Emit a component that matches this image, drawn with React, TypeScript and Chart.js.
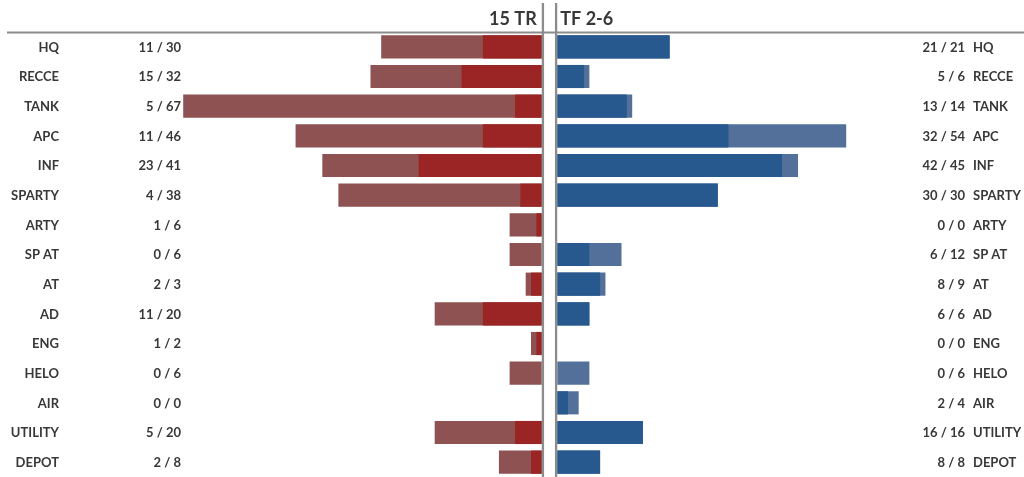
import { useEffect, useRef } from 'react';
import { Chart, registerables } from 'chart.js';

Chart.register(...registerables);

const leftTitle = '15 TR';
const rightTitle = 'TF 2-6';
const categories = ['HQ', 'RECCE', 'TANK', 'APC', 'INF', 'SPARTY', 'ARTY', 'SP AT', 'AT', 'AD', 'ENG', 'HELO', 'AIR', 'UTILITY', 'DEPOT'];
const trHave = [11, 15, 5, 11, 23, 4, 1, 0, 2, 11, 1, 0, 0, 5, 2];
const trTotal = [30, 32, 67, 46, 41, 38, 6, 6, 3, 20, 2, 6, 0, 20, 8];
const tfHave = [21, 5, 13, 32, 42, 30, 0, 6, 8, 6, 0, 0, 2, 16, 8];
const tfTotal = [21, 6, 14, 54, 45, 30, 0, 12, 9, 6, 0, 6, 4, 16, 8];

const TEXT = '#383838';
const LINE = '#8c8c8c';

export default function App() {
  const ref = useRef<HTMLCanvasElement>(null);

  useEffect(() => {
    document.body.style.margin = '0';
    const canvas = ref.current;
    if (!canvas) return;

    const labelsPlugin = {
      id: 'butterflyLabels',
      afterDraw(chart: any) {
        const ctx = chart.ctx as CanvasRenderingContext2D;
        const y = chart.scales.y;
        const zl = chart.scales.xL.getPixelForValue(0);
        const zr = chart.scales.xR.getPixelForValue(0);
        ctx.save();
        ctx.strokeStyle = LINE;
        ctx.lineWidth = 1.8;
        ctx.beginPath();
        ctx.moveTo(7, 32.5);
        ctx.lineTo(chart.width, 32.5);
        ctx.stroke();
        ctx.lineWidth = 2.3;
        ctx.beginPath();
        ctx.moveTo(zl + 1.2, 3);
        ctx.lineTo(zl + 1.2, chart.height);
        ctx.moveTo(zr - 1.2, 3);
        ctx.lineTo(zr - 1.2, chart.height);
        ctx.stroke();

        ctx.fillStyle = TEXT;
        ctx.font = "bold 18px Lato";
        ctx.textBaseline = 'alphabetic';
        ctx.textAlign = 'right';
        ctx.fillText(leftTitle, zl - 5, 25);
        ctx.textAlign = 'left';
        ctx.fillText(rightTitle, zr + 3, 25);

        ctx.font = "bold 13px Lato";
        ctx.textBaseline = 'middle';
        categories.forEach((c, i) => {
          const py = y.getPixelForValue(i) + 0.5;
          ctx.textAlign = 'right';
          ctx.fillText(c, 59, py);
          ctx.fillText(`${trHave[i]} / ${trTotal[i]}`, 181, py);
          ctx.fillText(`${tfHave[i]} / ${tfTotal[i]}`, 965, py);
          ctx.textAlign = 'left';
          ctx.fillText(c, 973, py);
        });
        ctx.restore();
      },
    };

    const common = { grouped: false, barPercentage: 0.78, categoryPercentage: 1, borderWidth: 0 };

    const chart = new Chart(canvas, {
      type: 'bar',
      data: {
        labels: categories,
        datasets: [
          { ...common, label: '15 TR have', data: trHave, xAxisID: 'xL', backgroundColor: '#9b2525' },
          { ...common, label: '15 TR total', data: trTotal, xAxisID: 'xL', backgroundColor: '#8e5252' },
          { ...common, label: 'TF 2-6 have', data: tfHave, xAxisID: 'xR', backgroundColor: '#27598f' },
          { ...common, label: 'TF 2-6 total', data: tfTotal, xAxisID: 'xR', backgroundColor: '#52709a' },
        ],
      },
      options: {
        indexAxis: 'y',
        animation: false,
        responsive: false,
        devicePixelRatio: 1,
        layout: { padding: { left: 180, right: 106, top: 32, bottom: 0 } },
        plugins: { legend: { display: false }, tooltip: { enabled: false } },
        scales: {
          y: { type: 'category', display: false, offset: true },
          xL: {
            type: 'linear', position: 'bottom', stack: 'x', stackWeight: 1,
            reverse: true, min: -1.36, max: 67.6, display: false,
          },
          xR: {
            type: 'linear', position: 'bottom', stack: 'x', stackWeight: 1,
            min: -1.55, max: 67.42, display: false,
          },
        },
      },
      plugins: [labelsPlugin],
    });

    return () => chart.destroy();
  }, []);

  return (
    <div style={{ width: 1024, height: 477 }}>
      <canvas ref={ref} width={1024} height={477} style={{ display: 'block' }} />
    </div>
  );
}
